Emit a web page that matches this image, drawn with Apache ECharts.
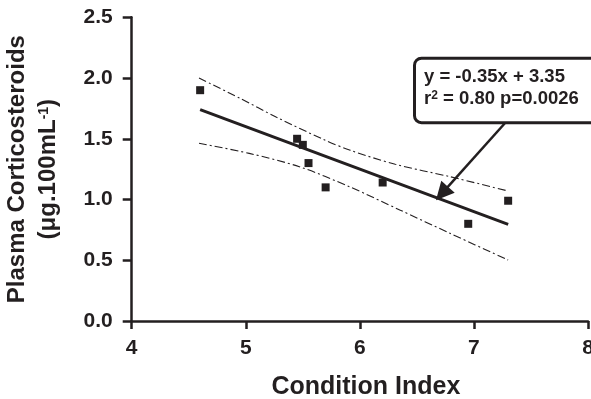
<!DOCTYPE html>
<html><head><meta charset="utf-8">
<script src="https://cdn.jsdelivr.net/npm/echarts@6/dist/echarts.min.js"></script>
<style>html,body{margin:0;padding:0;background:#fff}#c{width:591px;height:399px}</style>
</head><body><div id="c"></div>
<script>
// Data
const pointsX = [4.6, 5.45, 5.5, 5.55, 5.7, 6.2, 6.95, 7.3];
const pointsY = [1.9, 1.5, 1.45, 1.3, 1.1, 1.14, 0.8, 0.99];
const fitX = [4.6, 7.3];
const fitY = [1.74, 0.795];
const upperX = [4.59, 4.95, 5.27, 5.68, 5.91, 6.31, 6.79, 7.3];
const upperY = [2.0, 1.833, 1.677, 1.495, 1.407, 1.29, 1.188, 1.07];
const lowerX = [4.59, 5.03, 5.47, 5.91, 6.35, 6.79, 7.3];
const lowerY = [1.463, 1.38, 1.27, 1.105, 0.914, 0.722, 0.502];
const xTicks = [4, 5, 6, 7, 8];
const yTicks = [0.0, 0.5, 1.0, 1.5, 2.0, 2.5];
const arrowFrom = [7.275, 1.632];
const arrowTo = [6.72, 1.05];
const eqText1 = 'y = -0.35x + 3.35';
const eqText2a = 'r';
const eqText2sup = '2';
const eqText2b = ' = 0.80 p=0.0026';
const xTitle = 'Condition Index';
const yTitle1 = 'Plasma Corticosteroids';
const yTitle2a = '(\u03bcg.100mL';
const yTitle2sup = '-1';
const yTitle2b = ')';

const INK = '#231f20';
const FONT = '"Liberation Sans", Arial, Helvetica, sans-serif';

const zip = (a, b) => a.map((v, i) => [v, b[i]]);

const chart = echarts.init(document.getElementById('c'), null, {renderer: 'canvas'});
chart.setOption({
  animation: false,
  backgroundColor: '#fff',
  grid: {left: 131.7, top: 17.3, right: 3, height: 303.7, containLabel: false, outerBoundsMode: 'none'},
  xAxis: {
    type: 'value', min: xTicks[0], max: xTicks[xTicks.length - 1], interval: 1,
    splitLine: {show: false},
    axisLine: {show: true, onZero: false, lineStyle: {color: INK, width: 2.5}},
    axisTick: {show: true, length: 8, lineStyle: {color: INK, width: 2.5}},
    axisLabel: {margin: 17, color: INK, fontFamily: FONT, fontWeight: 'bold', fontSize: 21},
    name: xTitle, nameLocation: 'middle', nameGap: 54,
    nameTextStyle: {color: INK, fontFamily: FONT, fontWeight: 'bold', fontSize: 25, padding: [0, 0, 0, 12]}
  },
  yAxis: {
    type: 'value', min: yTicks[0], max: yTicks[yTicks.length - 1], interval: 0.5,
    splitLine: {show: false},
    axisLine: {show: true, onZero: false, lineStyle: {color: INK, width: 2.5}},
    axisTick: {show: true, length: 9, lineStyle: {color: INK, width: 2.5}},
    axisLabel: {margin: 19, color: INK, fontFamily: FONT, fontWeight: 'bold', fontSize: 21,
      formatter: v => v.toFixed(1)},
    name: '{a|' + yTitle1 + '}\n{a|' + yTitle2a + '}{s|' + yTitle2sup + '}{a|' + yTitle2b + '}',
    nameLocation: 'middle', nameRotate: 90, nameGap: 68,
    nameTextStyle: {
      color: INK, fontFamily: FONT, fontWeight: 'bold', fontSize: 24, lineHeight: 31,
      rich: {
        a: {color: INK, fontFamily: FONT, fontWeight: 'bold', fontSize: 24, lineHeight: 31},
        s: {color: INK, fontFamily: FONT, fontWeight: 'bold', fontSize: 14, lineHeight: 14, verticalAlign: 'top', padding: [4, 0, 0, 0]}
      }
    }
  },
  series: [
    {
      type: 'line', data: zip(upperX, upperY), smooth: 0.3, symbol: 'none', silent: true,
      lineStyle: {color: INK, width: 1.1, type: [8, 3, 2, 3]}
    },
    {
      type: 'line', data: zip(lowerX, lowerY), smooth: 0.3, symbol: 'none', silent: true,
      lineStyle: {color: INK, width: 1.1, type: [8, 3, 2, 3]}
    },
    {
      type: 'line', data: zip(fitX, fitY), symbol: 'none', silent: true,
      lineStyle: {color: INK, width: 3}
    },
    {
      type: 'scatter', data: zip(pointsX, pointsY), symbol: 'rect', symbolSize: 8,
      itemStyle: {color: INK, opacity: 1},
      markLine: {
        silent: true, symbol: ['none', 'triangle'], symbolSize: 18,
        label: {show: false},
        lineStyle: {color: INK, width: 2.5, type: 'solid'},
        data: [[{coord: arrowFrom}, {coord: arrowTo}]]
      }
    }
  ],
  graphic: [
    {
      type: 'rect', left: 413, top: 56.7, z: 10,
      shape: {width: 200, height: 64.5, r: 7},
      style: {fill: '#fff', stroke: INK, lineWidth: 3}
    },
    {
      type: 'text', left: 424, top: 67.5, z: 11,
      style: {
        text: '{b|' + eqText1 + '}\n{b|' + eqText2a + '}{p|' + eqText2sup + '}{b|' + eqText2b + '}',
        rich: {
          b: {fill: INK, fontFamily: FONT, fontWeight: 'bold', fontSize: 18.5, lineHeight: 22},
          p: {fill: INK, fontFamily: FONT, fontWeight: 'bold', fontSize: 12, lineHeight: 12, verticalAlign: 'top', padding: [2, 0, 0, 0]}
        }
      }
    }
  ]
});
</script>
</body></html>
